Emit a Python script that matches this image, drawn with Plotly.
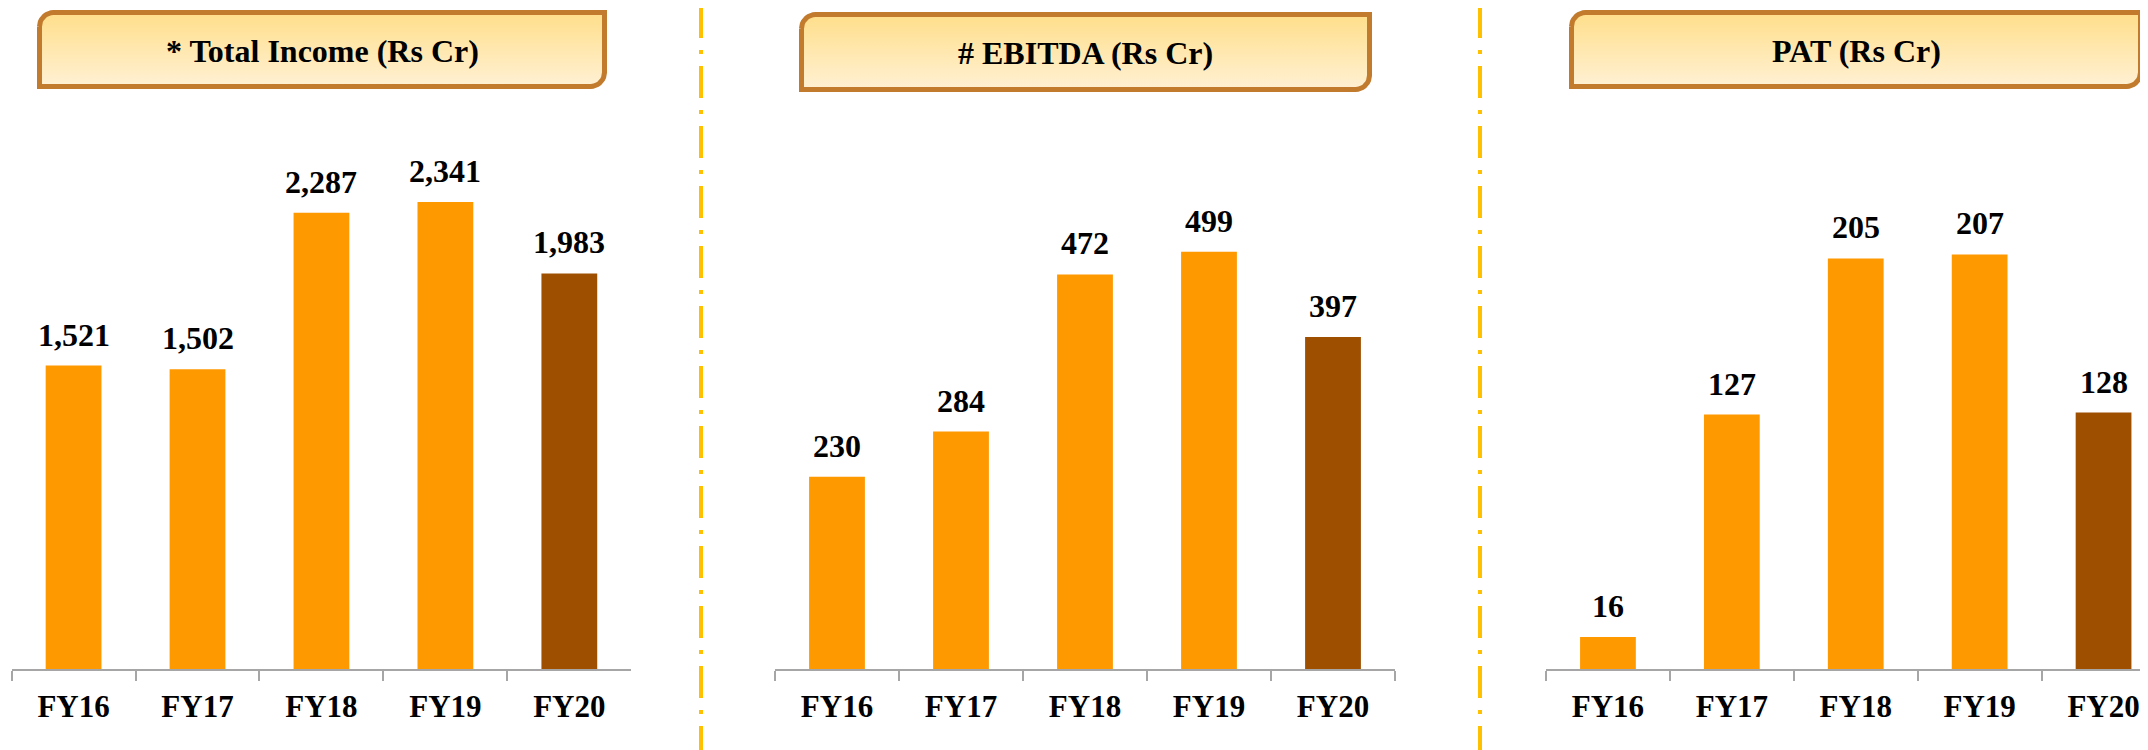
import numpy as np
import plotly.graph_objects as go

# ---------------- data ----------------
years = ["FY16", "FY17", "FY18", "FY19", "FY20"]
total_income = [1521, 1502, 2287, 2341, 1983]
ebitda = [230, 284, 472, 499, 397]
pat = [16, 127, 205, 207, 128]
titles = ["* Total Income (Rs Cr)", "# EBITDA (Rs Cr)", "PAT (Rs Cr)"]
value_labels_income = ["1,521", "1,502", "2,287", "2,341", "1,983"]
value_labels_ebitda = ["230", "284", "472", "499", "397"]
value_labels_pat = ["16", "127", "205", "207", "128"]

PAGE_W, PAGE_H = 2148, 750
OFF = 8  # default body margin of the html page
W, H = PAGE_W - OFF, PAGE_H - OFF
ORANGE = "#FF9900"
BROWN = "#9E4F00"
FONT = "Liberation Serif"

series = [total_income, ebitda, pat]
labels = [value_labels_income, value_labels_ebitda, value_labels_pat]
bar_colors = [ORANGE] * 4 + [BROWN]

# layout geometry (page pixels)
x_domains_px = [(11.6, 631.3), (775.0, 1395.0), (1546.0, PAGE_W)]
x_ranges = [[-0.5, 4.5], [-0.5, 4.5], [-0.5, -0.5 + (PAGE_W - 1546.0) / 123.9]]
axis_y_px = 669.0
top_y_px = 100.0
px_per_unit = [0.1995, 0.836, 2.003]
boxes_px = [(37, 10, 607, 89), (799, 12, 1372, 92), (1569, 10, 2143, 89)]
sep_x_px = [701, 1480]


def fx(px):
    return (px - OFF) / W


def fy(py):
    return (H - (py - OFF)) / H


fig = go.Figure()

y_dom = [fy(axis_y_px), fy(top_y_px)]

for i in range(3):
    xa = "x" if i == 0 else f"x{i+1}"
    ya = "y" if i == 0 else f"y{i+1}"
    fig.add_trace(go.Bar(
        x=years, y=series[i], marker=dict(color=bar_colors, line=dict(width=0)),
        width=0.45, xaxis=xa, yaxis=ya, showlegend=False, hoverinfo="skip",
    ))
    for yr, v, lab in zip(years, series[i], labels[i]):
        fig.add_annotation(
            x=yr, y=v, xref=xa, yref=ya, text=lab, showarrow=False,
            yanchor="bottom", yshift=11,
            font=dict(family=FONT, size=32, color="#000000", weight="bold"),
        )
    d = x_domains_px[i]
    axkey = "xaxis" if i == 0 else f"xaxis{i+1}"
    aykey = "yaxis" if i == 0 else f"yaxis{i+1}"
    fig.update_layout(**{
        axkey: dict(
            domain=[fx(d[0]), min(1.0, fx(d[1]))], anchor=ya, range=x_ranges[i],
            type="category", showline=True, linecolor="#A6A6A6", linewidth=2,
            ticks="outside", tickson="boundaries", ticklen=10, tickwidth=1.5,
            tickcolor="#A6A6A6", showgrid=False, zeroline=False,
            tickfont=dict(family=FONT, size=31, color="#000000", weight="bold"),
            ticklabelstandoff=9, fixedrange=True,
        ),
        aykey: dict(
            domain=y_dom, anchor=xa,
            range=[0, (axis_y_px - top_y_px) / px_per_unit[i]],
            visible=False, showgrid=False, zeroline=False, fixedrange=True,
        ),
    })

# overlay page-pixel axes for decorative title boxes
fig.update_layout(
    xaxis4=dict(domain=[0, 1], range=[OFF, PAGE_W], visible=False, fixedrange=True, anchor="y4"),
    yaxis4=dict(domain=[0, 1], range=[PAGE_H, OFF], visible=False, fixedrange=True, anchor="x4"),
)


def box_outline(x0, y0, x1, y1, r=14, n=10):
    xs, ys = [], []
    for t in np.linspace(np.pi, 1.5 * np.pi, n):
        xs.append(x0 + r + r * np.cos(t)); ys.append(y0 + r + r * np.sin(t))
    xs.append(x1); ys.append(y0)
    for t in np.linspace(0, 0.5 * np.pi, n):
        xs.append(x1 - r + r * np.cos(t)); ys.append(y1 - r + r * np.sin(t))
    xs.append(x0); ys.append(y1)
    xs.append(xs[0]); ys.append(ys[0])
    return xs, ys


for (x0, y0, x1, y1), title in zip(boxes_px, titles):
    bx, by = box_outline(x0 + 2.5, y0 + 2.5, x1 - 2.5, y1 - 2.5)
    fig.add_trace(go.Scatter(
        x=bx, y=by, xaxis="x4", yaxis="y4", mode="lines", fill="toself",
        line=dict(color="#C27A2C", width=5),
        fillgradient=dict(type="vertical", start=y0, stop=y1,
                          colorscale=[[0, "#FFDE88"], [1, "#FFF1D6"]]),
        showlegend=False, hoverinfo="skip",
    ))
    fig.add_annotation(
        x=(x0 + x1) / 2, y=(y0 + y1) / 2 + 1, xref="x4", yref="y4", text=title,
        showarrow=False, xanchor="center", yanchor="middle",
        font=dict(family=FONT, size=32, color="#000000", weight="bold"),
    )

for sx in sep_x_px:
    fig.add_shape(
        type="line", xref="x4", yref="y4", x0=sx, x1=sx, y0=6, y1=PAGE_H,
        line=dict(color="#FFC000", width=4, dash="32px,12px,4px,12px"),
    )

fig.update_layout(
    width=W, height=H, autosize=False,
    margin=dict(l=0, r=0, t=0, b=0),
    paper_bgcolor="#FFFFFF", plot_bgcolor="rgba(0,0,0,0)",
    bargap=0.55, showlegend=False,
)

fig.write_html("out.html")
